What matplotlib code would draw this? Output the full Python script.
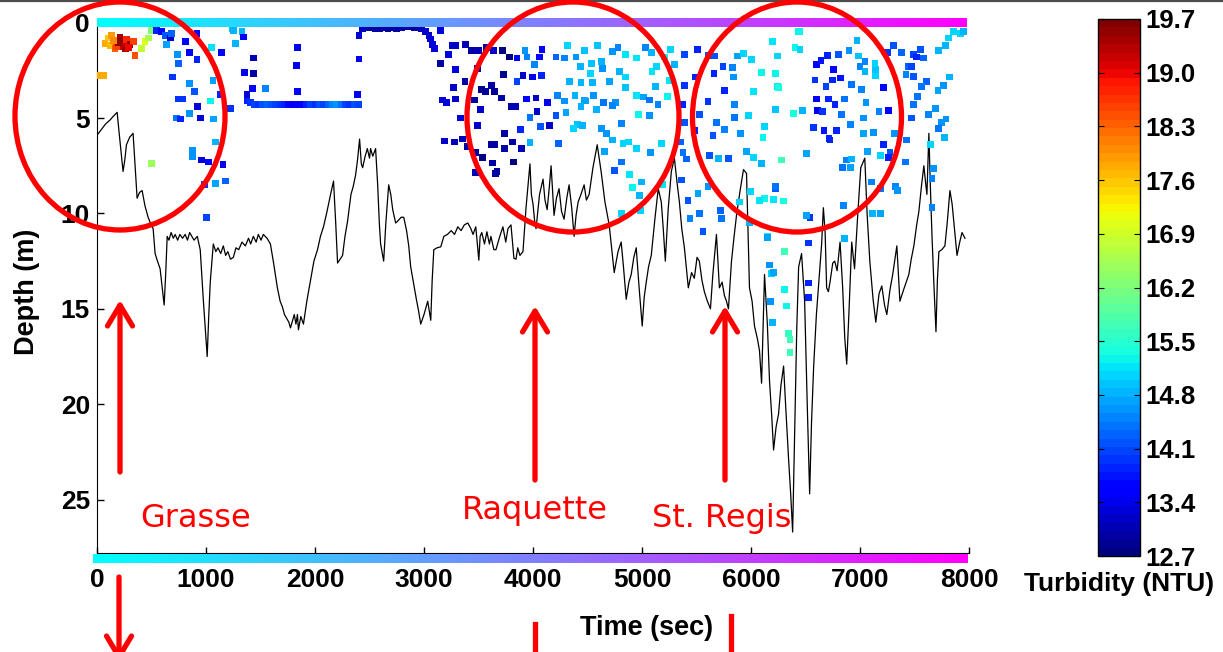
import numpy as np
import matplotlib
matplotlib.use('Agg')
import matplotlib.pyplot as plt
from matplotlib.patches import Ellipse, FancyArrowPatch
from matplotlib.lines import Line2D

plt.rcParams['font.family'] = ['Liberation Sans', 'DejaVu Sans']
plt.rcParams['font.weight'] = 'bold'

# --------------------------- bottom depth profile (time s, depth m) ---------------------------
bathy_a = [(0, 5.9), (40, 5.6), (80, 5.3), (120, 5.1), (150, 4.9), (185, 4.7), (200, 5.6), (239, 7.8),
           (255, 7.2), (270, 6.4), (300, 6.0), (331, 5.8), (350, 7.5), (368, 9.2), (390, 8.9), (414, 8.8),
           (440, 9.6), (469, 10.2), (490, 10.5), (515, 10.8), (533, 12.1), (555, 12.5), (579, 12.9),
           (600, 14.0), (616, 14.8), (630, 13.2), (644, 11.2), (660, 11.4), (680, 11.0), (700, 11.3),
           (717, 11.1), (740, 11.4), (760, 11.1), (785, 11.3), (809, 11.1), (830, 11.4), (850, 11.0),
           (870, 11.2), (890, 11.4), (920, 11.2), (947, 11.9), (975, 14.5), (1000, 16.6), (1011, 17.5)]
bathy_b = [(1025, 15.4), (1039, 13.6), (1067, 11.6), (1090, 12.0), (1110, 11.8), (1135, 12.1), (1159, 11.7),
           (1180, 12.2), (1200, 12.0), (1225, 12.4), (1251, 12.3), (1275, 11.8), (1300, 11.9), (1330, 11.5),
           (1361, 11.7), (1390, 11.3), (1410, 11.6), (1434, 11.2), (1460, 11.5), (1480, 11.1), (1505, 11.4),
           (1526, 11.1), (1560, 11.3), (1591, 11.6), (1620, 12.6), (1655, 13.9), (1680, 14.6), (1701, 14.9),
           (1720, 15.3), (1740, 15.5), (1760, 15.7), (1775, 16.0), (1795, 15.6), (1810, 15.3), (1825, 15.8),
           (1839, 15.3), (1848, 16.1), (1870, 15.4), (1894, 15.8), (1925, 14.6), (1959, 13.5), (1990, 12.5),
           (2023, 11.9), (2050, 11.2), (2078, 10.7), (2110, 9.9), (2143, 9.0), (2170, 8.3)]
bathy_c = [(2190, 10.5), (2207, 12.6), (2230, 12.4), (2253, 12.2), (2275, 11.2), (2299, 10.4), (2330, 9.0),
           (2350, 8.6), (2372, 8.0), (2390, 7.2), (2409, 6.1), (2425, 7.4), (2437, 7.6), (2460, 7.0),
           (2480, 6.6), (2500, 7.1), (2510, 6.6), (2530, 7.0), (2556, 6.6), (2575, 8.5), (2590, 10.5),
           (2602, 11.6), (2630, 12.5), (2650, 10.5), (2676, 8.5), (2695, 9.0), (2713, 9.8), (2740, 10.5),
           (2759, 10.4), (2790, 10.2), (2814, 10.2), (2840, 10.9), (2860, 11.7), (2878, 12.8), (2905, 13.7),
           (2930, 14.5), (2950, 15.1), (2970, 15.8), (3000, 15.3), (3034, 14.6), (3048, 15.1), (3062, 15.6),
           (3075, 13.5), (3090, 11.9)]
bathy_d = [(3120, 11.8), (3154, 11.75), (3182, 11.2), (3215, 11.1), (3250, 10.9), (3280, 11.1), (3310, 10.7),
           (3340, 10.9), (3370, 10.6), (3402, 10.5), (3430, 10.8), (3450, 11.1), (3475, 10.7), (3503, 12.45),
           (3515, 11.2), (3530, 11.0), (3555, 11.6), (3577, 10.96), (3600, 11.6), (3614, 11.2), (3641, 11.9),
           (3660, 11.9), (3690, 11.3), (3724, 10.7), (3750, 11.5), (3770, 10.8), (3798, 10.6), (3825, 12.35),
           (3844, 12.4), (3860, 11.8), (3880, 12.2), (3908, 12.0), (3936, 9.7), (3972, 7.4), (3985, 9.0),
           (4000, 9.5), (4015, 10.4), (4028, 10.8), (4060, 9.0), (4092, 8.2), (4110, 9.3), (4130, 9.8),
           (4150, 8.6), (4166, 7.5)]
bathy_e = [(4193, 10.1), (4215, 9.2), (4239, 8.7), (4262, 9.9), (4285, 10.3), (4310, 9.2), (4331, 8.5),
           (4355, 9.7), (4377, 11.2), (4395, 10.1), (4414, 9.4), (4440, 9.0), (4469, 8.5), (4490, 9.3),
           (4515, 9.0), (4550, 7.6), (4589, 6.4), (4625, 7.8), (4660, 9.4), (4699, 10.6), (4745, 13.1),
           (4780, 12.0), (4809, 11.5), (4830, 12.8), (4855, 14.5), (4880, 13.6), (4901, 13.2), (4925, 12.3),
           (4947, 11.8), (4975, 14.0), (5002, 15.9), (5020, 14.4), (5039, 13.6), (5060, 12.8), (5085, 12.2),
           (5120, 10.2), (5149, 8.7), (5177, 9.4), (5195, 10.8), (5214, 12.5), (5240, 9.8), (5269, 7.8),
           (5297, 7.1)]
bathy_f = [(5320, 8.3), (5343, 9.4), (5365, 10.8), (5389, 11.8), (5425, 13.9), (5455, 13.1), (5480, 13.4),
           (5505, 12.3), (5526, 12.5), (5550, 13.5), (5572, 14.1), (5600, 14.6), (5628, 15.0), (5650, 13.2),
           (5683, 11.1), (5710, 13.9), (5735, 13.6), (5756, 14.3), (5775, 14.6), (5793, 15.0), (5821, 12.5),
           (5845, 11.2), (5867, 10.1), (5900, 8.8), (5931, 7.7), (5959, 7.9), (5986, 13.9), (6010, 14.6),
           (6032, 15.9), (6060, 16.6), (6078, 17.2), (6097, 18.9)]
bathy_g = [(6124, 13.2), (6150, 15.8), (6170, 18.8), (6190, 20.6), (6207, 22.4), (6230, 21.2), (6253, 20.5),
           (6275, 19.0), (6299, 18.0), (6320, 20.3), (6345, 22.9), (6365, 24.8), (6382, 26.7), (6400, 21.5),
           (6420, 16.0), (6437, 12.8), (6464, 12.1), (6492, 14.6), (6515, 19.8), (6538, 24.7), (6555, 21.0),
           (6575, 18.0), (6600, 15.3), (6621, 13.7), (6648, 11.6), (6664, 9.7), (6680, 11.0), (6694, 13.9),
           (6710, 14.1), (6725, 13.6), (6750, 12.6), (6768, 12.5), (6790, 13.0), (6817, 11.5), (6841, 13.9),
           (6860, 16.5), (6878, 17.9), (6900, 15.0), (6924, 11.5), (6950, 12.9), (6980, 10.0), (7007, 7.6),
           (7044, 7.1)]
bathy_h = [(7065, 10.0), (7090, 12.5), (7120, 14.5), (7145, 15.7), (7175, 14.2), (7200, 13.8), (7225, 14.8),
           (7246, 15.3), (7275, 14.0), (7300, 13.2), (7338, 11.7), (7366, 14.6), (7400, 14.0), (7448, 13.2),
           (7470, 12.4), (7494, 11.7), (7520, 10.6), (7540, 9.9), (7565, 8.5), (7586, 7.5), (7600, 8.3),
           (7614, 9.0), (7632, 5.8), (7645, 8.5), (7660, 11.1), (7680, 14.0), (7697, 16.2), (7710, 13.5),
           (7724, 12.0), (7750, 11.9), (7779, 11.7), (7800, 10.5), (7825, 8.8), (7845, 9.5), (7862, 10.5),
           (7890, 12.2), (7915, 11.5), (7936, 11.0), (7963, 11.3)]

# --------------------------- turbidity samples (time s, depth m, NTU) ---------------------------
turb_grasse = [(0, 2.75, 17.8), (58, 2.75, 17.8), (74, 1.1, 17.8), (104, 0.8, 17.6), (120, 1.2, 17.7),
               (135, 0.65, 17.9), (166, 1.35, 18.3), (181, 1.25, 18.6), (211, 0.75, 19.4), (227, 1.0, 19.6),
               (242, 1.25, 19.2), (273, 0.9, 18.8), (303, 1.15, 19.5), (334, 1.0, 18.6), (349, 1.7, 18.4),
               (196, 1.05, 19.5), (258, 1.35, 19.4), (288, 1.3, 19.0), (150, 0.95, 18.0),
               (411, 1.35, 16.8), (441, 1.0, 17.0), (472, 0.8, 16.6), (503, 0.4, 16.3), (503, 7.4, 16.5)]
turb_early = [(549, 0.4, 13.9), (595, 0.45, 13.6), (625, 0.65, 14.2), (641, 1.15, 14.7), (671, 0.8, 13.2),
              (687, 0.55, 14.3), (809, 1.0, 13.6), (917, 0.55, 13.5), (739, 1.65, 14.6), (849, 1.55, 13.6),
              (748, 2.15, 14.3), (917, 1.95, 13.9), (1054, 1.3, 15.2), (1140, 1.55, 13.6), (692, 2.85, 14.0),
              (849, 3.2, 14.6), (895, 3.6, 14.2), (748, 4.0, 14.0), (788, 4.0, 14.0), (923, 4.4, 13.3),
              (1039, 4.1, 15.3), (1064, 3.05, 14.7), (1131, 3.75, 13.8), (726, 5.0, 14.4), (769, 5.05, 13.8),
              (849, 4.75, 14.6), (947, 5.0, 13.3), (1070, 5.05, 14.7), (1085, 6.25, 14.8), (879, 6.7, 14.6),
              (879, 7.0, 14.6), (962, 7.2, 13.3), (1024, 7.3, 13.6), (1156, 7.45, 13.4), (1177, 8.3, 14.3),
              (1085, 8.45, 14.7), (987, 8.5, 14.0), (1008, 10.2, 14.1), (1223, 4.5, 14.0), (1241, 0.3, 14.9),
              (1254, 0.4, 14.8), (1269, 1.1, 14.8), (1330, 0.45, 14.8), (1345, 0.75, 13.5), (1352, 2.6, 13.4),
              (1437, 1.85, 13.1), (1437, 2.65, 13.0), (1376, 3.75, 13.3), (1428, 3.45, 13.6),
              (1545, 3.45, 14.5), (1836, 1.3, 13.4), (1827, 2.25, 13.4), (1842, 3.6, 13.5)]
turb_band = [(1376, 4.1, 13.9), (1410, 4.2, 14.0), (1440, 4.3, 14.1), (1480, 4.3, 14.0), (1520, 4.3, 14.2),
             (1560, 4.3, 14.3), (1600, 4.3, 14.2), (1640, 4.3, 14.1), (1680, 4.3, 14.0), (1720, 4.3, 13.9),
             (1760, 4.3, 13.6), (1800, 4.3, 13.4), (1840, 4.3, 13.5), (1880, 4.3, 13.6), (1920, 4.3, 13.9),
             (1960, 4.3, 14.1), (2000, 4.3, 14.0), (2040, 4.3, 14.2), (2080, 4.3, 14.1), (2120, 4.3, 14.3),
             (2160, 4.3, 14.5), (2200, 4.3, 14.6), (2240, 4.3, 14.4), (2280, 4.3, 14.1), (2320, 4.3, 14.0),
             (2360, 4.3, 14.2), (2400, 4.3, 14.1)]
turb_arc = [(2403, 1.9, 13.4), (2388, 3.75, 13.4), (2403, 0.65, 13.3), (2434, 0.3, 13.2), (2470, 0.25, 13.1),
            (2510, 0.25, 13.0), (2550, 0.3, 12.95), (2590, 0.3, 13.0), (2630, 0.25, 12.95), (2670, 0.3, 13.0),
            (2710, 0.25, 12.95), (2750, 0.3, 12.95), (2790, 0.25, 13.0), (2830, 0.2, 13.1), (2870, 0.2, 13.0),
            (2910, 0.25, 12.95), (2950, 0.25, 13.0), (2980, 0.3, 13.1), (3016, 0.45, 13.2), (3046, 0.65, 13.2),
            (3062, 0.85, 13.3), (3078, 1.15, 13.3), (3093, 1.35, 13.3), (3154, 0.4, 13.3)]
turb_raquette = [(3154, 2.15, 13.0), (3225, 1.65, 13.3), (3261, 1.2, 13.2), (3292, 1.2, 13.2), (3384, 1.15, 13.1),
                 (3292, 2.45, 13.3), (3377, 3.1, 13.0), (3267, 3.4, 13.2), (3169, 4.05, 13.3), (3209, 4.2, 13.3),
                 (3292, 4.0, 13.2), (3338, 5.0, 13.3), (3191, 6.2, 13.2), (3277, 6.25, 13.1), (3350, 6.1, 13.1),
                 (3399, 6.5, 13.0), (3476, 6.8, 13.0), (3537, 7.05, 12.8), (3476, 7.85, 13.1), (3439, 1.45, 13.0),
                 (3497, 1.45, 13.1), (3574, 1.3, 13.0), (3638, 1.45, 13.2), (3721, 1.45, 12.8), (3782, 1.8, 12.8),
                 (3853, 1.85, 13.5), (3926, 1.45, 14.6), (3945, 1.8, 14.5), (4012, 2.2, 14.5), (4083, 1.4, 13.5),
                 (4060, 1.8, 13.6), (3491, 2.4, 12.95), (3731, 2.7, 12.9), (3853, 3.1, 14.1), (3908, 2.75, 13.2),
                 (3997, 2.85, 13.4), (4080, 2.75, 13.8), (3620, 3.3, 12.95), (3561, 3.6, 12.95), (3645, 3.6, 12.9),
                 (3712, 3.95, 12.95), (3798, 4.4, 13.0), (3838, 4.4, 13.1), (3942, 4.0, 13.5), (4028, 3.95, 13.2),
                 (4135, 4.2, 13.4), (3522, 4.55, 13.2), (3491, 5.4, 13.2), (4037, 4.65, 13.2), (3972, 4.95, 14.4),
                 (3883, 5.6, 13.8), (4067, 5.45, 14.2), (3736, 5.8, 12.95), (3813, 6.25, 13.0), (3896, 6.6, 13.1),
                 (3972, 6.3, 14.8), (3614, 6.4, 12.95), (3645, 6.4, 12.95), (3736, 6.6, 12.95), (3822, 7.3, 12.8),
                 (3629, 7.35, 13.0), (3669, 7.8, 12.95), (3464, 4.05, 12.95), (3528, 3.5, 12.9), (3657, 7.9, 12.95)]
turb_mid = [(4319, 1.2, 15.0), (4472, 1.45, 14.9), (4589, 1.2, 14.9), (4733, 1.5, 14.6), (4779, 1.3, 14.5),
            (4846, 1.65, 15.2), (4947, 1.85, 15.2), (5033, 1.3, 14.5), (5085, 1.55, 14.8), (5262, 1.4, 15.0),
            (5392, 1.65, 14.1), (5508, 1.4, 13.8), (5606, 1.7, 14.2), (5667, 1.75, 14.2), (5876, 1.75, 14.7),
            (5928, 1.6, 15.0), (6005, 1.95, 15.1), (4211, 1.8, 14.3), (4288, 1.85, 14.5), (4395, 1.8, 14.6),
            (4435, 2.3, 14.8), (4540, 2.15, 14.9), (4632, 2.05, 14.8), (4641, 2.4, 14.6), (4527, 2.65, 15.0),
            (4794, 2.55, 14.8), (4846, 2.85, 15.0), (5091, 2.55, 15.2), (5131, 2.3, 15.1), (5207, 1.8, 15.3),
            (5300, 2.2, 14.8), (5744, 2.3, 14.1), (5830, 2.35, 14.5), (5661, 2.65, 13.8), (5836, 2.85, 14.6),
            (5490, 2.85, 13.9), (5391, 3.3, 14.0), (4334, 3.1, 14.8), (4440, 3.15, 14.8), (4549, 3.15, 14.8),
            (4702, 3.1, 14.7), (4846, 3.4, 14.9), (5122, 3.35, 14.8), (5254, 3.05, 15.2), (4227, 3.8, 14.5),
            (4288, 4.1, 14.6), (4386, 3.8, 14.8), (4472, 4.05, 14.7), (4558, 3.8, 14.6), (4650, 4.2, 14.4),
            (4755, 4.2, 14.6), (4947, 3.8, 15.2), (5017, 3.9, 14.7), (5070, 4.05, 14.4), (5147, 4.3, 14.5),
            (5232, 3.85, 15.3), (5376, 4.3, 13.9), (5606, 4.15, 14.0), (5759, 3.55, 13.8), (5845, 4.95, 14.4),
            (5974, 4.85, 15.1), (4211, 4.85, 14.2), (4303, 4.7, 14.7), (4441, 4.4, 14.8), (4487, 4.1, 14.7),
            (4579, 4.55, 14.8), (4733, 4.35, 14.5), (4968, 4.8, 15.3), (5070, 4.85, 14.6), (4809, 5.3, 14.5),
            (4150, 5.4, 13.2), (4405, 5.35, 14.9), (4457, 5.4, 14.8), (4374, 5.55, 15.0), (4625, 5.55, 14.6),
            (4671, 5.8, 14.6), (4733, 6.15, 14.8), (4825, 6.35, 15.1), (4877, 6.25, 15.1), (4947, 6.6, 15.0),
            (5079, 6.8, 14.6), (5177, 6.35, 15.0), (5391, 5.25, 14.2), (5529, 4.8, 14.2), (5683, 5.25, 14.4),
            (5759, 5.6, 14.5), (5652, 5.9, 14.2), (5483, 5.65, 13.9), (5355, 6.25, 14.3), (5376, 6.8, 14.4),
            (5407, 7.15, 14.3), (4233, 6.35, 14.3), (4656, 6.75, 14.7), (4815, 7.3, 14.4), (4748, 7.75, 14.2),
            (4885, 7.95, 15.2), (4916, 8.65, 15.3), (4999, 8.35, 14.8), (4977, 9.05, 14.8), (5192, 8.5, 15.2),
            (5361, 8.25, 14.2), (5422, 9.3, 14.2), (5514, 8.95, 14.7), (5621, 6.95, 14.2), (5705, 7.1, 14.8),
            (5797, 7.1, 14.2), (5606, 8.6, 14.6), (4809, 10.0, 15.0), (4988, 9.85, 15.0), (5440, 10.25, 14.5),
            (5529, 10.0, 14.4), (5560, 10.95, 14.2), (5729, 10.25, 14.4), (5720, 9.85, 14.3), (5897, 9.4, 15.1),
            (5998, 8.85, 15.0), (6020, 7.05, 15.0), (5959, 6.75, 14.7), (6127, 5.45, 15.0), (6110, 6.0, 15.3),
            (6127, 9.2, 15.3), (6203, 9.25, 15.2), (6081, 9.3, 15.2), (6225, 8.7, 14.2), (6152, 11.2, 15.3),
            (5986, 10.5, 14.8), (6149, 11.25, 14.7)]
turb_deep = [(6173, 12.7, 14.6), (6189, 13.15, 15.0), (6182, 14.6, 14.6), (6195, 15.7, 14.8), (6210, 13.1, 14.7),
             (6311, 12.0, 15.7), (6311, 14.0, 15.3), (6326, 14.85, 15.3), (6347, 16.3, 15.6), (6357, 16.6, 15.7),
             (6357, 17.3, 15.7), (6526, 11.55, 14.0), (6526, 13.65, 13.9), (6526, 14.4, 13.9), (6541, 10.2, 14.0),
             (6510, 10.1, 14.7), (6510, 6.85, 14.7), (6228, 2.65, 15.3), (6020, 3.6, 15.2), (6100, 2.6, 15.3),
             (6200, 1.0, 15.2), (5845, 4.3, 14.5), (5906, 5.8, 14.6), (6097, 7.4, 14.8), (6241, 3.35, 15.2)]
turb_regis = [(6434, 0.45, 15.3), (6450, 0.45, 15.3), (6403, 1.3, 15.3), (6450, 1.4, 15.0), (6244, 1.75, 15.0),
              (6250, 3.4, 15.4), (6225, 4.55, 14.9), (6388, 4.75, 15.4), (6470, 4.6, 14.8), (6280, 7.2, 15.7),
              (6225, 8.6, 14.4), (6296, 9.35, 15.4), (6848, 9.6, 14.5), (6857, 11.3, 14.8), (6602, 2.2, 13.5),
              (6642, 2.0, 13.7), (6703, 1.7, 13.9), (6802, 1.65, 14.2), (6899, 1.45, 14.6), (6985, 1.75, 14.9),
              (6973, 0.95, 14.8), (7046, 2.05, 14.5), (7000, 2.3, 14.5), (6756, 2.45, 13.6), (6818, 2.9, 13.7),
              (6587, 3.0, 14.0), (6688, 3.35, 14.1), (6746, 3.0, 13.8), (6924, 3.25, 14.4), (7015, 3.5, 14.5),
              (7145, 2.75, 15.0), (7145, 2.45, 14.9), (7138, 2.15, 15.1), (7046, 2.55, 14.8), (6602, 4.0, 13.4),
              (6710, 4.0, 13.8), (6771, 4.3, 13.8), (6611, 4.6, 13.4), (6657, 4.65, 14.0), (6857, 4.0, 14.4),
              (6832, 4.8, 14.4), (7055, 4.2, 14.6), (7175, 4.65, 14.5), (7031, 5.0, 14.6), (6915, 5.35, 14.5),
              (6571, 5.5, 14.0), (6669, 5.65, 13.7), (6786, 5.65, 13.8), (6715, 6.05, 13.8), (6724, 6.15, 13.9),
              (7031, 5.8, 14.7), (7126, 5.75, 14.6), (7215, 3.4, 13.6), (7215, 6.4, 13.8), (7261, 4.6, 13.6),
              (7317, 5.8, 14.6), (7071, 6.75, 14.7), (7185, 6.95, 15.1), (7275, 6.8, 14.2), (7261, 7.05, 13.8),
              (6878, 7.2, 14.5), (6924, 7.15, 14.8), (6838, 7.6, 14.4), (6915, 7.6, 14.7), (7102, 8.35, 14.5),
              (7185, 8.7, 14.4), (7329, 8.6, 14.5), (7347, 8.8, 14.6), (7116, 10.0, 14.8), (7187, 10.0, 14.7)]
turb_end = [(7307, 1.2, 14.2), (7255, 1.55, 14.0), (7384, 1.55, 14.3), (7491, 1.65, 14.1), (7552, 1.4, 14.2),
            (7582, 1.85, 14.3), (7521, 1.8, 13.9), (7445, 2.3, 14.3), (7476, 2.3, 14.1), (7721, 1.45, 14.8),
            (7788, 1.2, 14.8), (7813, 0.8, 15.0), (7859, 0.45, 15.0), (7920, 0.55, 15.0), (7950, 0.45, 14.8),
            (7422, 2.7, 14.5), (7491, 2.8, 14.2), (7608, 3.1, 14.3), (7562, 3.35, 14.4), (7822, 2.85, 14.8),
            (7767, 3.3, 14.6), (7715, 3.55, 14.7), (7531, 3.85, 14.4), (7491, 4.3, 14.4), (7690, 4.5, 14.6),
            (7629, 4.8, 14.5), (7476, 5.0, 14.2), (7789, 5.05, 14.6), (7746, 5.25, 14.6), (7721, 5.55, 14.4),
            (7776, 6.0, 14.8), (7430, 6.15, 14.4), (7415, 7.3, 14.4), (7645, 6.4, 15.0), (7675, 7.65, 14.6),
            (7660, 8.15, 14.5), (7660, 9.7, 14.5)]

xticks = [0, 1000, 2000, 3000, 4000, 5000, 6000, 7000, 8000]
yticks = [0, 5, 10, 15, 20, 25]
cbar_ticks = [12.7, 13.4, 14.1, 14.8, 15.5, 16.2, 16.9, 17.6, 18.3, 19.0, 19.7]
sites = ['Grasse', 'Raquette', 'St. Regis']

# --------------------------- assemble ---------------------------
bathy = np.array(bathy_a + bathy_b + bathy_c + bathy_d + bathy_e + bathy_f + bathy_g + bathy_h)
turb = np.array(turb_grasse + turb_early + turb_band + turb_arc + turb_raquette + turb_mid
                + turb_deep + turb_regis + turb_end)

W, H = 1223, 652
fig = plt.figure(figsize=(W / 100, H / 100), dpi=100)


def fpos(x, y):
    # pixel position (from top-left) -> figure fraction
    return (x / W, 1 - y / H)


ax = fig.add_axes([97 / W, 1 - 553 / H, 872 / W, 530.3 / H])

cmap = plt.get_cmap('jet', 64)
ax.plot(bathy[:, 0], bathy[:, 1], color='black', lw=0.9, zorder=2)
sc = ax.scatter(turb[:, 0], turb[:, 1], c=turb[:, 2], cmap=cmap, vmin=12.7, vmax=19.7,
                marker='s', s=24, linewidths=0, zorder=3)

# time-coloured track bars along the surface and bottom
grad = np.linspace(0, 1, 256)[None, :]
ax.imshow(grad, cmap='cool', extent=[0, 7980, 0.22, -0.24], aspect='auto',
          clip_on=False, zorder=4, interpolation='bilinear')
ax.imshow(grad, cmap='cool', extent=[-40, 7980, 28.3, 27.85], aspect='auto',
          clip_on=False, zorder=4, interpolation='bilinear')

ax.set_xlim(0, 8000)
ax.set_ylim(27.8, 0)
ax.set_xticks(xticks)
ax.set_yticks(yticks)
ax.spines['top'].set_visible(False)
ax.spines['right'].set_visible(False)
ax.tick_params(axis='both', direction='in', labelsize=19, width=1)
ax.tick_params(axis='x', length=4, pad=11)
ax.tick_params(axis='y', length=5, pad=5)

fig.text(*fpos(647, 628), 'Time (sec)', ha='center', va='center', fontsize=19.5, fontweight='bold')
fig.text(*fpos(27, 292), 'Depth (m)', ha='center', va='center', rotation=90, fontsize=19.5,
         fontweight='bold')

# colorbar
cax = fig.add_axes([1098 / W, 1 - 556 / H, 42 / W, 537 / H])
cb = fig.colorbar(sc, cax=cax, ticks=cbar_ticks)
cb.ax.set_yticklabels(['%.1f' % v for v in cbar_ticks])
cb.ax.tick_params(direction='in', length=4, left=True, right=True, labelsize=18.5, pad=4)
cb.outline.set_linewidth(1)
fig.text(*fpos(1119, 584), 'Turbidity (NTU)', ha='center', va='center', fontsize=19, fontweight='bold')

# --------------------------- red annotations ---------------------------
red = '#ff0000'
for cx, cy, w, h in [(120, 116, 210, 228), (573, 117, 212, 230), (797, 117, 209, 230)]:
    fig.add_artist(Ellipse(fpos(cx, cy), w / W, h / H, transform=fig.transFigure,
                           fill=False, ec=red, lw=3.8, zorder=10))

arrow_style = '->,head_length=0.75,head_width=0.45'
for x, y0, y1 in [(120, 472, 300), (535, 480, 306), (725, 480, 306), (119, 577, 662)]:
    fig.add_artist(FancyArrowPatch(fpos(x, y0), fpos(x, y1), transform=fig.transFigure,
                                   arrowstyle=arrow_style, mutation_scale=20, color=red,
                                   lw=3.8, shrinkA=0, shrinkB=0, zorder=10))
for x, y0 in [(535, 624), (731, 616)]:
    fig.add_artist(Line2D([x / W, x / W], [1 - y0 / H, 0], transform=fig.transFigure,
                          color=red, lw=3.8, zorder=10))

for name, x, yb in zip(sites, [140, 462, 652], [527, 519, 527]):
    fig.text(*fpos(x, yb), name, color=red, fontsize=23, fontweight='normal',
             family='DejaVu Sans', ha='left', va='baseline', zorder=11)

# thin frame line at the very top
fig.add_artist(Line2D([0, 1], [1 - 1 / H, 1 - 1 / H], transform=fig.transFigure,
                      color='#4d4d4d', lw=1.6))

fig.savefig('out.png', dpi=100)
